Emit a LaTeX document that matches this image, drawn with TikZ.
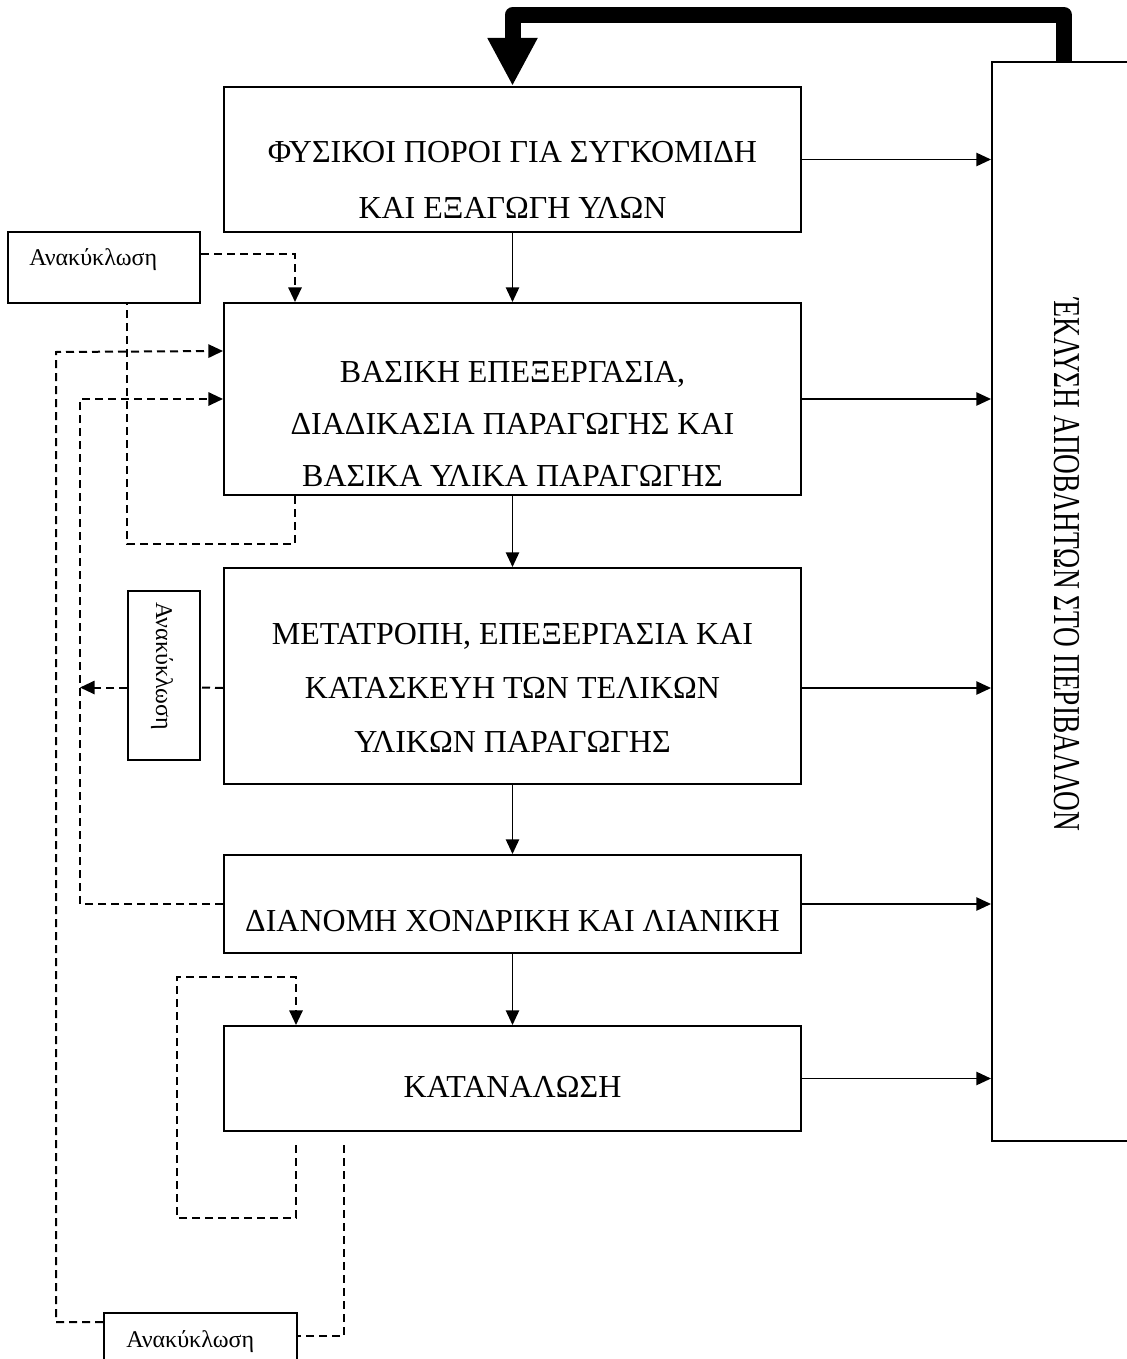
\documentclass[tikz,border=0pt]{standalone}
\usepackage{fontspec}
\usepackage{graphicx}
\setmainfont{Liberation Serif}
\usetikzlibrary{arrows.meta,fit,calc}
\begin{document}
\begin{tikzpicture}[x=0.75pt,y=-0.75pt,
  stage/.style={draw, line width=1.5pt, inner sep=0pt, fit={#1}},
  recbox/.style={draw, line width=1.5pt, inner sep=0pt, fill=white, fit={#1}},
  caps/.style={font=\fontsize{24}{29}\selectfont, anchor=base, inner sep=0pt},
  small/.style={font=\fontsize{18}{22}\selectfont, anchor=base west, inner sep=0pt},
  tip/.style={-{Triangle[length=11pt 0 0, width=10pt 0 0]}},
  flow/.style={line width=1.1pt, tip},
  recyc/.style={line width=1.5pt, dash pattern=on 6pt off 3.75pt},
  feedback/.style={line width=12pt, line join=round,
    -{Triangle[length=36pt 0 0, width=35pt 0 0]}}
]
\clip (0,0) rectangle (1127,1359);

% main chain of stages
\node[stage={(224,87) (801,232)}]   (n1) {};
\node[stage={(224,303) (801,495)}]  (n2) {};
\node[stage={(224,568) (801,784)}]  (n3) {};
\node[stage={(224,855) (801,953)}]  (n4) {};
\node[stage={(224,1026) (801,1131)}] (n5) {};

% discharge to the environment (box runs off the right edge)
\node[stage={(992,62) (1200,1141)}] (env) {};

% stage texts
\node[caps] (t1a) at (512.5,163) {ΦΥΣΙΚΟΙ ΠΟΡΟΙ ΓΙΑ ΣΥΓΚΟΜΙΔΗ};
\node[caps] (t1b) at (512.5,219) {ΚΑΙ ΕΞΑΓΩΓΗ ΥΛΩΝ};
\node[caps] (t2a) at (512.5,382) {ΒΑΣΙΚΗ ΕΠΕΞΕΡΓΑΣΙΑ,};
\node[caps] (t2b) at (512.5,434) {ΔΙΑΔΙΚΑΣΙΑ ΠΑΡΑΓΩΓΗΣ ΚΑΙ};
\node[caps] (t2c) at (512.5,486) {ΒΑΣΙΚΑ ΥΛΙΚΑ ΠΑΡΑΓΩΓΗΣ};
\node[caps] (t3a) at (512.5,644) {ΜΕΤΑΤΡΟΠΗ, ΕΠΕΞΕΡΓΑΣΙΑ ΚΑΙ};
\node[caps] (t3b) at (512.5,698) {ΚΑΤΑΣΚΕΥΗ ΤΩΝ ΤΕΛΙΚΩΝ};
\node[caps] (t3c) at (512.5,752) {ΥΛΙΚΩΝ ΠΑΡΑΓΩΓΗΣ};
\node[caps] (t4)  at (512.5,931) {ΔΙΑΝΟΜΗ ΧΟΝΔΡΙΚΗ ΚΑΙ ΛΙΑΝΙΚΗ};
\node[caps] (t5)  at (512.5,1097) {ΚΑΤΑΝΑΛΩΣΗ};

\node[rotate=-90, anchor=base, inner sep=0pt, font=\fontsize{28.5}{34}\selectfont]
  (tenv) at (1054,565) {\scalebox{0.72}[1]{ΈΚΛΥΣΗ ΑΠΟΒΛΗΤΩΝ ΣΤΟ ΠΕΡΙΒΑΛΛΟΝ}};

% recycling boxes
\node[recbox={(8,232) (200,303)}]    (r1) {};
\node[small] (tr1) at (29,265) {Ανακύκλωση};
\node[recbox={(128,591) (200,760)}]  (r2) {};
\node[small, rotate=-90] (tr2) at (156,602) {Ανακύκλωση};
\node[recbox={(104,1313) (297,1400)}] (r3) {};
\node[small] (tr3) at (126,1347) {Ανακύκλωση};

% downward flow between stages
\draw[flow] (n1.south) -- (n2.north);
\draw[flow] (n2.south) -- (n3.north);
\draw[flow] (n3.south) -- (n4.north);
\draw[flow] (n4.south) -- (n5.north);

% discharges from every stage
\draw[flow] (n1.east) -- (n1.east -| env.west);
\draw[flow] (n2.east) -- (n2.east -| env.west);
\draw[flow] ($(n3.east)+(0,12)$) -- ($(n3.east -| env.west)+(0,12)$);
\draw[flow] (n4.east) -- (n4.east -| env.west);
\draw[flow] (n5.east) -- (n5.east -| env.west);

% feedback from the environment to the natural resources
\coordinate (fb) at (1064,62);
\draw[feedback] (fb) -- (1064,15) -- (512.5,15) -- (n1.north);

% recycling loops
\draw[recyc, tip] ($(r1.north east)+(0,23)$) -| ($(n2.north west)+(72,0)$);
\draw[recyc] ($(n2.south west)+(72,0)$) -- ++(0,48) -| ($(r1.south west)+(120,0)$);
\draw[recyc, tip] ($(r3.north west)+(0,10)$) -| (56,352) -- ($(n2.north west)+(0,49)$);
\draw[recyc, tip] (n4.west) -| (80,399) -- (n2.west);
\draw[recyc] ($(n3.west)+(0,12)$) -- ($(r2.east)+(0,12)$);
\draw[recyc, tip] ($(r2.west)+(0,12)$) -- ($(r2.west)+(-47,12)$);
\draw[recyc, tip] ($(n5.south west)+(73,13)$) -- ++(0,73) -| (177,977) -| ($(n5.north west)+(73,0)$);
\draw[recyc] ($(n5.south west)+(121,13)$) |- ($(r3.north east)+(0,24)$);
\end{tikzpicture}
\end{document}
